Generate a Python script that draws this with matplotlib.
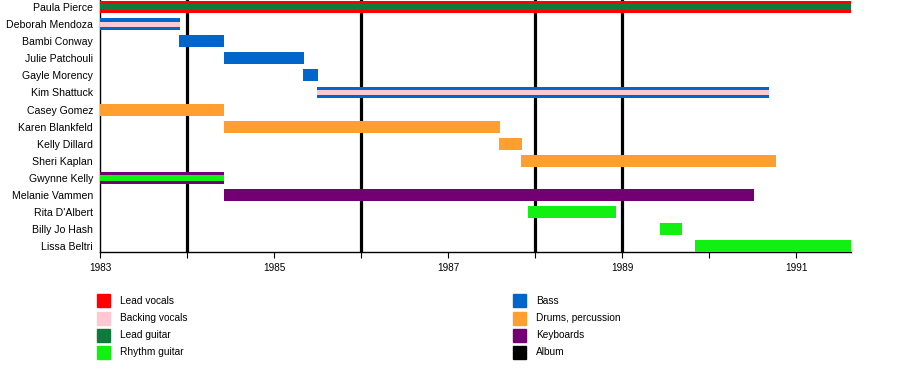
#! /usr/bin/env python3

import matplotlib
matplotlib.use("Agg")
import matplotlib.pyplot as plt
from matplotlib.patches import Rectangle

plt.rcParams['font.family'] = ['Liberation Sans', 'DejaVu Sans']

# members, top to bottom
members = ["Paula Pierce", "Deborah Mendoza", "Bambi Conway", "Julie Patchouli",
           "Gayle Morency", "Kim Shattuck", "Casey Gomez", "Karen Blankfeld",
           "Kelly Dillard", "Sheri Kaplan", "Gwynne Kelly", "Melanie Vammen",
           "Rita D'Albert", "Billy Jo Hash", "Lissa Beltri"]

# start / end as decimal years
starts = [1983.0, 1983.0, 1983.91, 1984.42, 1985.33, 1985.49, 1983.0, 1984.42,
          1987.59, 1987.84, 1983.0, 1984.42, 1987.92, 1989.43, 1989.84]
ends = [1991.63, 1983.92, 1984.43, 1985.34, 1985.5, 1990.69, 1984.43, 1987.6,
        1987.85, 1990.77, 1984.43, 1990.52, 1988.93, 1989.69, 1991.63]

# main role and secondary (stripe) role
main_role = ["Lead vocals", "Bass", "Bass", "Bass", "Bass", "Bass",
             "Drums, percussion", "Drums, percussion", "Drums, percussion",
             "Drums, percussion", "Keyboards", "Keyboards",
             "Rhythm guitar", "Rhythm guitar", "Rhythm guitar"]
stripe_role = ["Lead guitar", "Backing vocals", None, None, None, "Backing vocals",
               None, None, None, None, "Rhythm guitar", None, None, None, None]

albums = [1984.0, 1986.0, 1988.0, 1989.0]

legend_labels = ["Lead vocals", "Backing vocals", "Lead guitar", "Rhythm guitar",
                 "Bass", "Drums, percussion", "Keyboards", "Album"]
legend_colors = ["#FF0000", "#FFC8D2", "#0E7B3A", "#12F012",
                 "#0066CC", "#FF9F2F", "#730073", "#000000"]
role_color = dict(zip(legend_labels, legend_colors))

fig = plt.figure(figsize=(9, 3.77), dpi=100)
ax = fig.add_axes([100/900, 1 - 252/377, 751/900, 252/377])

rows = list(range(len(members)))
for i in rows:
    ax.barh(i, ends[i] - starts[i], left=starts[i], height=0.7,
            color=role_color[main_role[i]], zorder=3)
    if stripe_role[i]:
        ax.barh(i, ends[i] - starts[i], left=starts[i], height=0.3,
                color=role_color[stripe_role[i]], zorder=4)

for a in albums:
    ax.axvline(a, color="black", lw=2.3, zorder=2)

ax.set_xlim(1983, 1991.63)
ax.set_ylim(14.33, -0.41)
ax.set_yticks(rows, members, fontsize=7.6)
ax.tick_params(axis="y", length=0, pad=5)
ax.set_xticks(range(1983, 1992))
ax.set_xticklabels([str(y) if y % 2 == 1 else "" for y in range(1983, 1992)], fontsize=7.2)
ax.tick_params(axis="x", length=4, width=0.8, pad=4)
for s in ["top", "right"]:
    ax.spines[s].set_visible(False)
ax.spines["left"].set_linewidth(1)
ax.spines["bottom"].set_linewidth(1)

# legend, two columns of four
col_x = [97, 513]
row_y = [300.5, 318, 335, 352]
for k, (lab, col) in enumerate(zip(legend_labels, legend_colors)):
    cx = col_x[k // 4]
    cy = row_y[k % 4]
    fig.add_artist(Rectangle((cx / 900, 1 - (cy + 6.5) / 377), 13 / 900, 13 / 377,
                             transform=fig.transFigure, color=col))
    fig.text((cx + 23) / 900, 1 - cy / 377, lab, fontsize=7.3, va="center", ha="left")

plt.savefig("out.png", dpi=100)
